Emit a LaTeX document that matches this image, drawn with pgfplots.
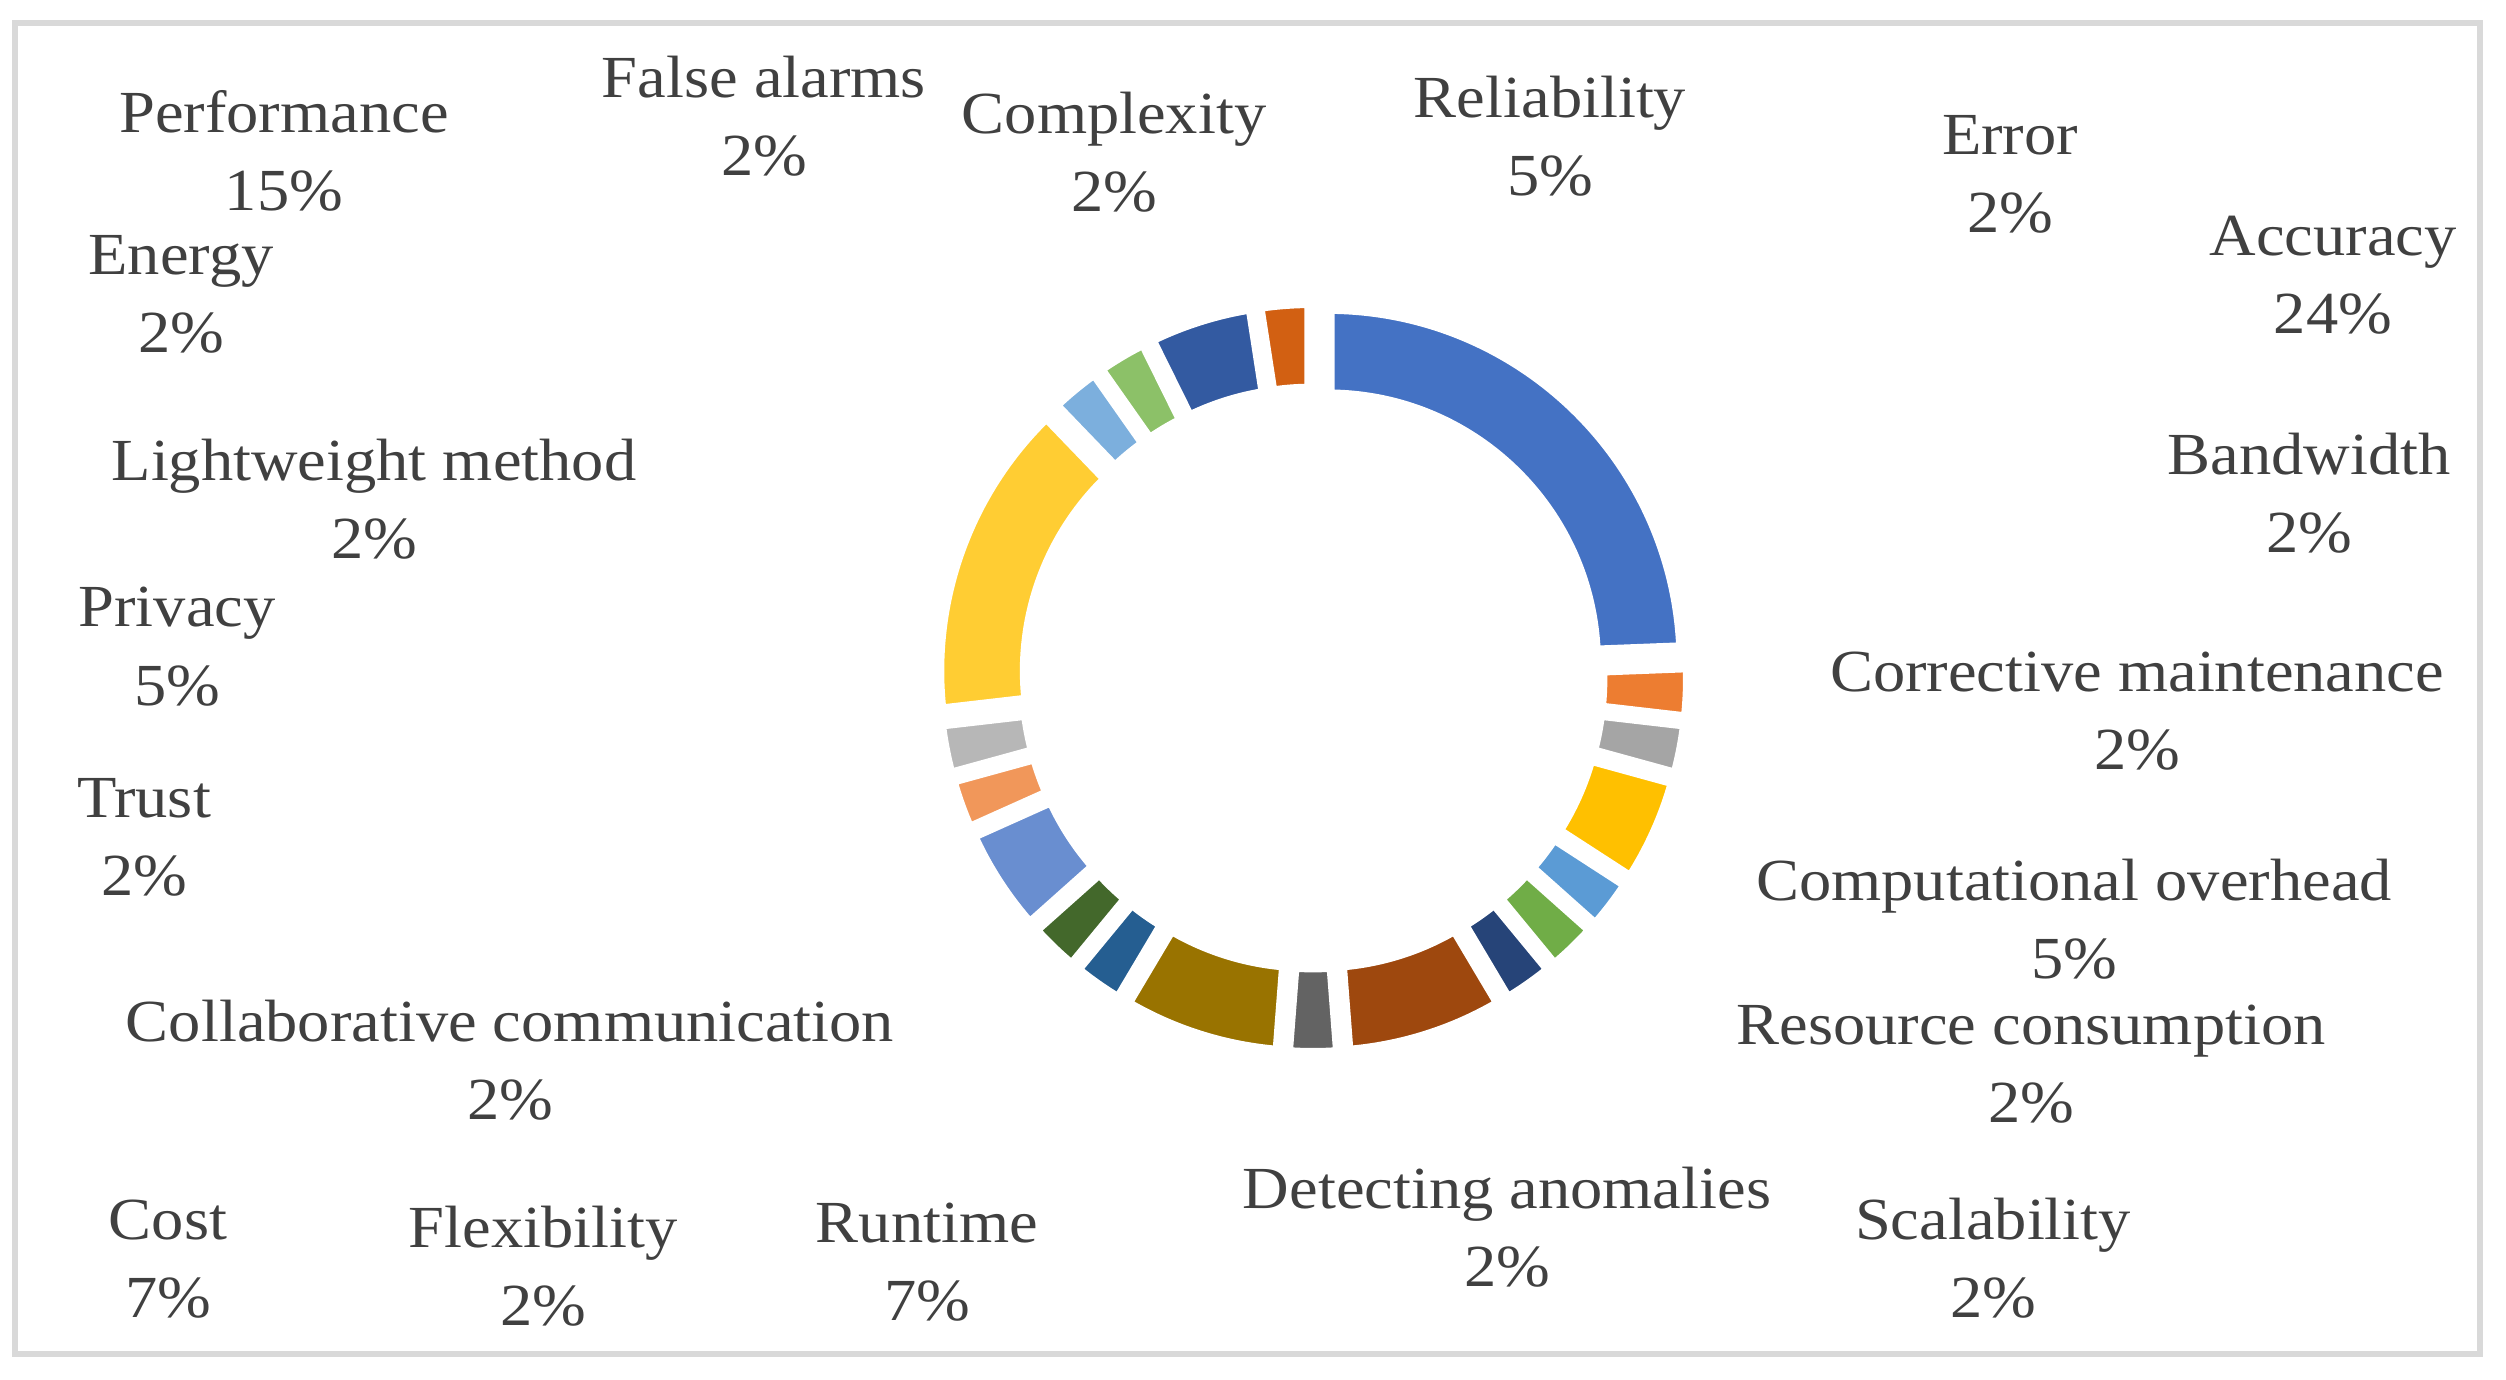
\documentclass[border=0pt]{standalone}
\usepackage{fontspec}
\setmainfont[FakeStretch=1.08]{Liberation Serif}
\usepackage{pgfplots}
\usepackage{pgfplotstable}
\pgfplotsset{compat=1.18}

\definecolor{c0}{HTML}{4472C4}
\definecolor{c1}{HTML}{ED7D31}
\definecolor{c2}{HTML}{A5A5A5}
\definecolor{c3}{HTML}{FFC000}
\definecolor{c4}{HTML}{5B9BD5}
\definecolor{c5}{HTML}{70AD47}
\definecolor{c6}{HTML}{264478}
\definecolor{c7}{HTML}{9E480E}
\definecolor{c8}{HTML}{636363}
\definecolor{c9}{HTML}{997300}
\definecolor{c10}{HTML}{255E91}
\definecolor{c11}{HTML}{43682B}
\definecolor{c12}{HTML}{698ED0}
\definecolor{c13}{HTML}{F1975A}
\definecolor{c14}{HTML}{B7B7B7}
\definecolor{c15}{HTML}{FFCD33}
\definecolor{c16}{HTML}{7CAFDD}
\definecolor{c17}{HTML}{8CC168}
\definecolor{c18}{HTML}{335AA1}
\definecolor{c19}{HTML}{D26012}
\definecolor{txt}{HTML}{404040}
\definecolor{framec}{HTML}{D9D9D9}

% share of each category (clockwise from 12 o'clock)
\pgfplotstableread{
label n
Accuracy 10
Bandwidth 1
Corrective 1
Computational 2
Resource 1
Scalability 1
Detecting 1
Runtime 3
Flexibility 1
Cost 3
Collaborative 1
Trust 1
Privacy 2
Lightweight 1
Energy 1
Performance 6
FalseAlarms 1
Complexity 1
Reliability 2
Error 1
}\donut

\tikzset{lab/.style={anchor=base, text=txt, inner sep=0pt, font=\fontsize{16.2}{18}\selectfont}}
\newcommand\lbl[4]{%
  \node[lab] at (axis cs:#1,{#2-4}) {#3};
  \node[lab] at (axis cs:#1,{#2-82}) {#4};
}

\begin{document}
\begin{tikzpicture}
\def\cx{1313}\def\cy{701}\def\dd{21}\def\Ro{356}\def\Ri{266.4}
\pgfplotstablegetrowsof{\donut}\pgfmathtruncatemacro\nrows{\pgfplotsretval-1}
\def\total{0}
\pgfplotsforeachungrouped \i in {0,...,\nrows}{%
  \pgfplotstablegetelem{\i}{n}\of\donut
  \pgfmathsetmacro\total{\total+\pgfplotsretval}}
\def\cum{0}
\pgfplotsforeachungrouped \i in {0,...,\nrows}{%
  \pgfplotstablegetelem{\i}{n}\of\donut \let\nv\pgfplotsretval
  \pgfmathsetmacro\sa{90-360*\cum/\total}
  \pgfmathsetmacro\ea{90-360*(\cum+\nv)/\total}
  \pgfmathsetmacro\ma{(\sa+\ea)/2}
  \pgfmathsetmacro\ox{\cx+\dd*cos(\ma)}
  \pgfmathsetmacro\oy{\cy+\dd*sin(\ma)}
  \pgfmathsetmacro\xa{\ox+\Ro*cos(\sa)}
  \pgfmathsetmacro\ya{\oy+\Ro*sin(\sa)}
  \pgfmathsetmacro\xb{\ox+\Ri*cos(\ea)}
  \pgfmathsetmacro\yb{\oy+\Ri*sin(\ea)}
  \expandafter\xdef\csname sa\i\endcsname{\sa}
  \expandafter\xdef\csname ea\i\endcsname{\ea}
  \expandafter\xdef\csname xa\i\endcsname{\xa}
  \expandafter\xdef\csname ya\i\endcsname{\ya}
  \expandafter\xdef\csname xb\i\endcsname{\xb}
  \expandafter\xdef\csname yb\i\endcsname{\yb}
  \pgfmathsetmacro\cum{\cum+\nv}
}
\begin{axis}[
  width=680pt, height=374.2pt, scale only axis,
  xmin=0, xmax=2506, ymin=0, ymax=1379,
  hide axis, clip=false,
]
\path (axis cs:0,0) rectangle (axis cs:2506,1379);
\draw[framec, line width=1.63pt] (axis cs:15,25.5) rectangle (axis cs:2480,1355.5);
\pgfplotsinvokeforeach{0,...,19}{%
  \edef\tmp{\noexpand\filldraw[fill=c#1, draw=white, line width=3.8pt]
   (axis cs:\csname xa#1\endcsname,\csname ya#1\endcsname)
   arc[start angle=\csname sa#1\endcsname, end angle=\csname ea#1\endcsname, radius=96.6pt]
   -- (axis cs:\csname xb#1\endcsname,\csname yb#1\endcsname)
   arc[start angle=\csname ea#1\endcsname, end angle=\csname sa#1\endcsname, radius=72.29pt]
   -- cycle;}\tmp
}
\lbl{284}{1250}{Performance}{15\%}
\lbl{764}{1285}{False alarms}{2\%}
\lbl{1114}{1249}{Complexity}{2\%}
\lbl{1550}{1265}{Reliability}{5\%}
\lbl{2010}{1228}{Error}{2\%}
\lbl{2333}{1127}{Accuracy}{24\%}
\lbl{181}{1108}{Energy}{2\%}
\lbl{2309}{908}{Bandwidth}{2\%}
\lbl{374}{902}{Lightweight method}{2\%}
\lbl{177}{756}{Privacy}{5\%}
\lbl{2137}{692}{Corrective maintenance}{2\%}
\lbl{144}{566}{Trust}{2\%}
\lbl{2074}{483}{Computational overhead}{5\%}
\lbl{2031}{339}{Resource consumption}{2\%}
\lbl{510}{342}{Collaborative communication}{2\%}
\lbl{1507}{175}{Detecting anomalies}{2\%}
\lbl{1993}{144}{Scalability}{2\%}
\lbl{168}{144}{Cost}{7\%}
\lbl{543}{136}{Flexibility}{2\%}
\lbl{927}{141}{Runtime}{7\%}
\end{axis}
\end{tikzpicture}
\end{document}
